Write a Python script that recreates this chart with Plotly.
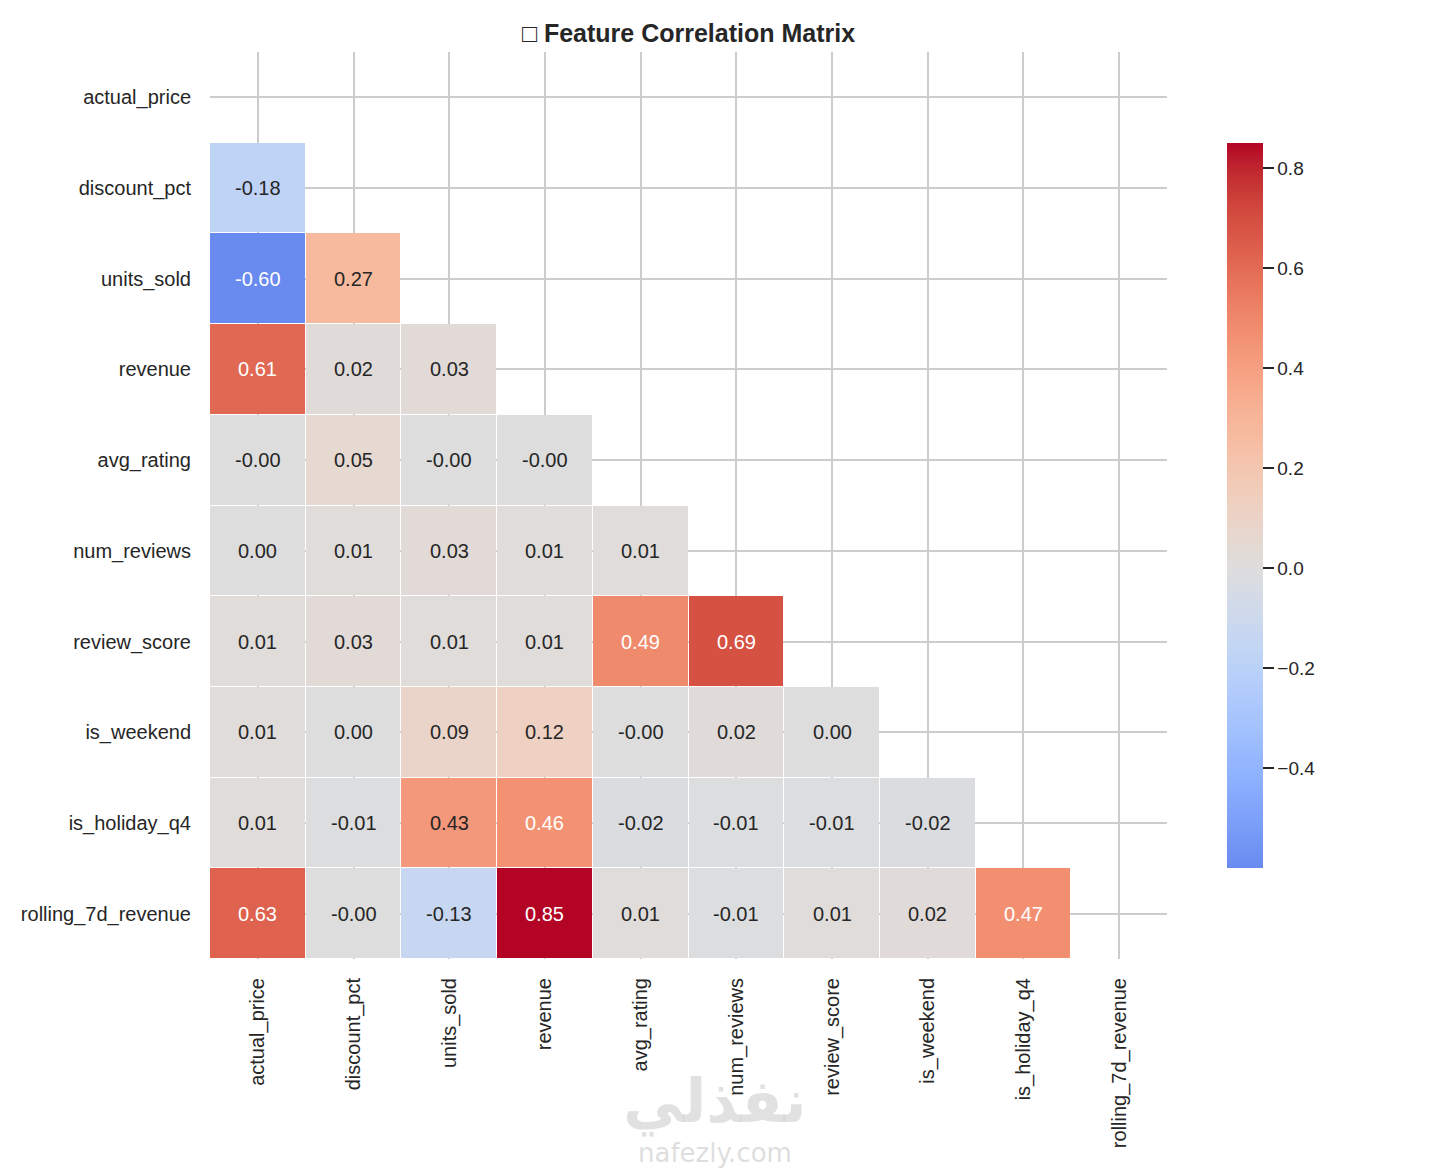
import plotly.graph_objects as go
import numpy as np

features = ["actual_price", "discount_pct", "units_sold", "revenue", "avg_rating",
            "num_reviews", "review_score", "is_weekend", "is_holiday_q4", "rolling_7d_revenue"]

# lower-triangle correlation values (row i, columns 0..i-1)
row_discount_pct = [-0.18]
row_units_sold = [-0.60, 0.27]
row_revenue = [0.61, 0.02, 0.03]
row_avg_rating = [-0.001, 0.05, -0.001, -0.001]
row_num_reviews = [0.00, 0.01, 0.03, 0.01, 0.01]
row_review_score = [0.01, 0.03, 0.01, 0.01, 0.49, 0.69]
row_is_weekend = [0.01, 0.00, 0.09, 0.12, -0.001, 0.02, 0.00]
row_is_holiday_q4 = [0.01, -0.01, 0.43, 0.46, -0.02, -0.01, -0.01, -0.02]
row_rolling_7d_revenue = [0.63, -0.001, -0.13, 0.85, 0.01, -0.01, 0.01, 0.02, 0.47]

lower_rows = [[], row_discount_pct, row_units_sold, row_revenue, row_avg_rating,
              row_num_reviews, row_review_score, row_is_weekend, row_is_holiday_q4,
              row_rolling_7d_revenue]

n = len(features)
z = [[None] * n for _ in range(n)]
for i, row in enumerate(lower_rows):
    for j, v in enumerate(row):
        z[i][j] = v

vals = [v for row in lower_rows for v in row]
zmin, zmax = min(vals), max(vals)
vabs = max(abs(zmin), abs(zmax))

# matplotlib coolwarm reference table
cw_pos = np.linspace(0, 1, 33)
cw_rgb = np.array([
    [59, 76, 192], [68, 90, 204], [77, 104, 215], [87, 117, 225], [98, 130, 234],
    [108, 142, 241], [119, 154, 247], [130, 165, 251], [141, 176, 254], [152, 185, 255],
    [163, 194, 255], [174, 201, 253], [184, 208, 249], [194, 213, 244], [204, 217, 238],
    [213, 219, 230], [221, 221, 221], [229, 216, 209], [236, 211, 197], [241, 204, 185],
    [245, 196, 173], [247, 187, 160], [247, 177, 148], [247, 166, 135], [244, 154, 123],
    [241, 141, 111], [236, 127, 99], [229, 112, 88], [222, 96, 77], [213, 80, 66],
    [203, 62, 56], [192, 40, 47], [180, 4, 38]], dtype=float)


def coolwarm(f):
    return [float(np.interp(f, cw_pos, cw_rgb[:, k])) for k in range(3)]


def color_for(v):
    return coolwarm((v + vabs) / (2 * vabs))


# centered colormap truncated to the data range (seaborn center=0 behaviour)
colorscale = []
for t in np.linspace(0, 1, 64):
    v = zmin + t * (zmax - zmin)
    r, g, b = color_for(v)
    colorscale.append([float(t), f"rgb({r:.0f},{g:.0f},{b:.0f})"])


def lum(rgb):
    out = []
    for c in rgb:
        c = c / 255
        out.append(c / 12.92 if c <= 0.03928 else ((c + 0.055) / 1.055) ** 2.4)
    return 0.2126 * out[0] + 0.7152 * out[1] + 0.0722 * out[2]


fig = go.Figure()
fig.add_trace(go.Heatmap(
    x=features, y=features, z=z, zmin=zmin, zmax=zmax,
    colorscale=colorscale, xgap=1, ygap=1, hoverongaps=False,
    colorbar=dict(
        x=1.0627, xanchor="left", xref="paper", xpad=0, ypad=0,
        y=0.5, yanchor="middle", len=0.7994, lenmode="fraction",
        thickness=36, outlinewidth=0,
        tickvals=[-0.4, -0.2, 0.0, 0.2, 0.4, 0.6, 0.8], tickformat=".1f",
        ticks="outside", ticklen=11, tickwidth=1.5, tickcolor="#262626",
        tickfont=dict(family="Liberation Sans, Arial", size=19, color="#262626"),
    ),
))

annotations = []
for i, row in enumerate(lower_rows):
    for j, v in enumerate(row):
        tc = "#262626" if lum(color_for(v)) > 0.408 else "white"
        annotations.append(dict(
            x=features[j], y=features[i], text=f"{v:.2f}", showarrow=False,
            font=dict(family="Liberation Sans, Arial", size=20, color=tc)))

annotations.append(dict(xref="paper", yref="paper", x=0.5277, y=-0.198, text="نفذلي",
                        showarrow=False, font=dict(family="DejaVu Sans", size=60,
                                                   color="rgba(200,200,200,0.55)", weight="bold")))
annotations.append(dict(xref="paper", yref="paper", x=0.5277, y=-0.233, text="nafezly.com",
                        showarrow=False, font=dict(family="DejaVu Sans", size=26,
                                                   color="rgba(200,200,200,0.6)")))

shapes = []
for k in range(n - 1):
    shapes.append(dict(type="line", layer="below", xref="x", yref="y",
                       x0=k + 0.5, x1=k + 0.5, y0=-0.5, y1=n - 0.5,
                       line=dict(color="white", width=1.5)))
    shapes.append(dict(type="line", layer="below", xref="x", yref="y",
                       x0=-0.5, x1=n - 0.5, y0=k + 0.5, y1=k + 0.5,
                       line=dict(color="white", width=1.5)))

fig.update_layout(
    width=1430, height=1170,
    margin=dict(l=202, r=271, t=44, b=219),
    paper_bgcolor="white", plot_bgcolor="white",
    title=dict(text="<b>□ Feature Correlation Matrix</b>", x=0.5, xref="paper",
               xanchor="center", y=1 - 25 / 1170, yanchor="middle",
               font=dict(family="Liberation Sans, Arial", size=25, color="#262626")),
    annotations=annotations,
    shapes=shapes,
)
fig.update_xaxes(
    range=[-0.5, n - 0.5], showgrid=True, gridcolor="#cccccc", gridwidth=1.5,
    zeroline=False, showline=False, tickangle=-90,
    ticks="outside", ticklen=10, tickcolor="rgba(0,0,0,0)",
    tickfont=dict(family="Liberation Sans, Arial", size=20, color="#262626"),
)
fig.update_yaxes(
    range=[n - 0.5, -0.5], showgrid=True, gridcolor="#cccccc", gridwidth=1.5,
    zeroline=False, showline=False,
    ticks="outside", ticklen=14, tickcolor="rgba(0,0,0,0)",
    tickfont=dict(family="Liberation Sans, Arial", size=20, color="#262626"),
)

fig.write_html("out.html")
